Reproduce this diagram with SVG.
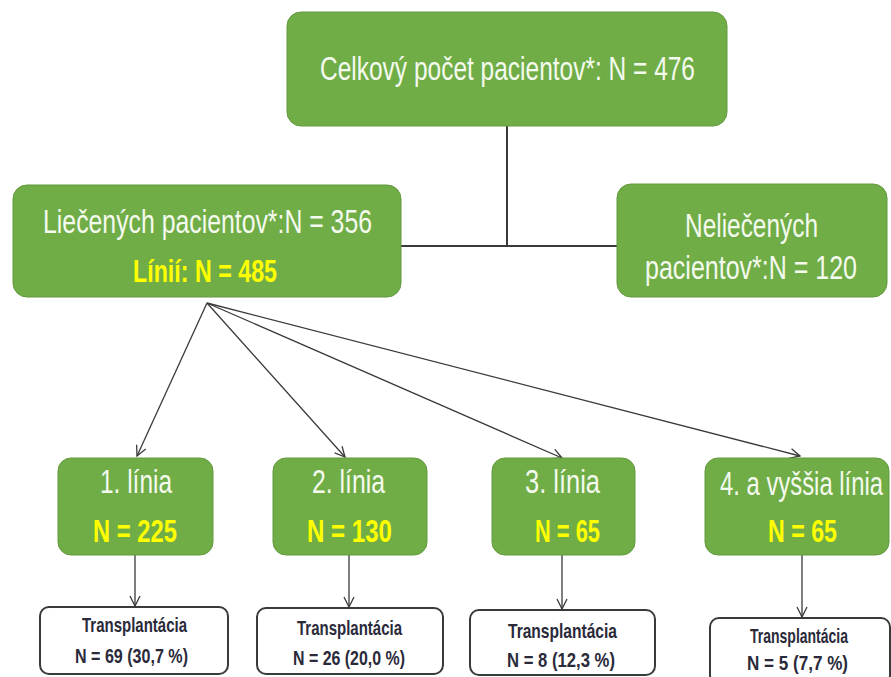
<svg xmlns="http://www.w3.org/2000/svg" width="891" height="677" viewBox="0 0 891 677">
<style>
.g{fill:#70AD47;stroke:#63993e;stroke-width:1}
.w{fill:#fff;stroke:#3a3a3a;stroke-width:2}
.t{font-family:"Liberation Sans",Arial,sans-serif;font-size:34px;fill:#F4FAEE;text-anchor:middle}
.y{font-family:"Liberation Sans",Arial,sans-serif;font-size:31px;font-weight:bold;fill:#FFFF00;text-anchor:middle}
.s{font-family:"Liberation Sans",Arial,sans-serif;font-size:20px;font-weight:bold;fill:#2a2a3a;text-anchor:middle}
.c{fill:none;stroke:#3a3a3a}
</style>
<defs>
<marker id="ah" viewBox="0 0 12 12" refX="11" refY="6" markerWidth="12" markerHeight="12" markerUnits="userSpaceOnUse" orient="auto">
<polyline points="1,1 11,6 1,11" fill="none" stroke="#3a3a3a" stroke-width="1.3"/>
</marker>
</defs>
<rect width="891" height="677" fill="#fff"/>
<g id="connectors">
<path class="c" stroke-width="2" d="M507,126 V246 M401,246 H617"/>
<g stroke-width="1.3" class="c" marker-end="url(#ah)">
<line x1="207" y1="303" x2="137" y2="456"/>
<line x1="207" y1="303" x2="345" y2="457"/>
<line x1="207" y1="303" x2="562" y2="458"/>
<line x1="207" y1="303" x2="800" y2="456"/>
<line x1="135" y1="555" x2="135" y2="606"/>
<line x1="349" y1="555" x2="349" y2="607"/>
<line x1="562" y1="555" x2="562" y2="609"/>
<line x1="802" y1="555" x2="802" y2="617"/>
</g>
</g>
<g id="total">
<rect class="g" x="287" y="12" width="440" height="114" rx="14"/>
<text class="t" transform="translate(507.5,80) scale(0.72,1)" textLength="520.8" lengthAdjust="spacingAndGlyphs">Celkový počet pacientov*: N = 476</text>
</g>
<g id="treated">
<rect class="g" x="13" y="185" width="388" height="112" rx="14"/>
<text class="t" transform="translate(207.5,233) scale(0.72,1)" textLength="456.9" lengthAdjust="spacingAndGlyphs">Liečených pacientov*:N = 356</text>
<text class="y" transform="translate(205,282) scale(0.76,1)" textLength="189.5" lengthAdjust="spacingAndGlyphs">Línií: N = 485</text>
</g>
<g id="untreated">
<rect class="g" x="617" y="184" width="270" height="113" rx="14"/>
<text class="t" transform="translate(751.5,237) scale(0.72,1)" textLength="184.7" lengthAdjust="spacingAndGlyphs">Neliečených</text>
<text class="t" transform="translate(751,279) scale(0.72,1)" textLength="294.4" lengthAdjust="spacingAndGlyphs">pacientov*:N = 120</text>
</g>
<g id="line1">
<rect class="g" x="58" y="458" width="155" height="97" rx="13"/>
<text class="t" transform="translate(136,493) scale(0.72,1)" textLength="100" lengthAdjust="spacingAndGlyphs">1. línia</text>
<text class="y" transform="translate(135,542) scale(0.76,1)" textLength="110.5" lengthAdjust="spacingAndGlyphs">N = 225</text>
</g>
<g id="line2">
<rect class="g" x="273" y="458" width="154" height="97" rx="13"/>
<text class="t" transform="translate(348.5,493) scale(0.72,1)" textLength="101.4" lengthAdjust="spacingAndGlyphs">2. línia</text>
<text class="y" transform="translate(349.5,542) scale(0.76,1)" textLength="111.8" lengthAdjust="spacingAndGlyphs">N = 130</text>
</g>
<g id="line3">
<rect class="g" x="492" y="458" width="143" height="97" rx="13"/>
<text class="t" transform="translate(562.5,493) scale(0.72,1)" textLength="104.2" lengthAdjust="spacingAndGlyphs">3. línia</text>
<text class="y" transform="translate(567.5,542) scale(0.76,1)" textLength="85.5" lengthAdjust="spacingAndGlyphs">N = 65</text>
</g>
<g id="line4">
<rect class="g" x="705" y="458" width="184" height="97" rx="13"/>
<text class="t" transform="translate(801.5,495) scale(0.72,1)" textLength="226.4" lengthAdjust="spacingAndGlyphs">4. a vyššia línia</text>
<text class="y" transform="translate(802.5,542) scale(0.76,1)" textLength="90.8" lengthAdjust="spacingAndGlyphs">N = 65</text>
</g>
<g id="tx1">
<rect class="w" x="40" y="607" width="188" height="67" rx="9"/>
<text class="s" transform="translate(134.5,632) scale(0.74,1)" textLength="141.9" lengthAdjust="spacingAndGlyphs">Transplantácia</text>
<text class="s" transform="translate(131.5,663) scale(0.74,1)" textLength="152.7" lengthAdjust="spacingAndGlyphs">N = 69 (30,7 %)</text>
</g>
<g id="tx2">
<rect class="w" x="257" y="608" width="186" height="66" rx="9"/>
<text class="s" transform="translate(349.5,635) scale(0.74,1)" textLength="141.9" lengthAdjust="spacingAndGlyphs">Transplantácia</text>
<text class="s" transform="translate(349,665) scale(0.74,1)" textLength="151.4" lengthAdjust="spacingAndGlyphs">N = 26 (20,0 %)</text>
</g>
<g id="tx3">
<rect class="w" x="470" y="610" width="185" height="65" rx="9"/>
<text class="s" transform="translate(562.5,638) scale(0.74,1)" textLength="147.3" lengthAdjust="spacingAndGlyphs">Transplantácia</text>
<text class="s" transform="translate(561,667) scale(0.74,1)" textLength="145.9" lengthAdjust="spacingAndGlyphs">N = 8 (12,3 %)</text>
</g>
<g id="tx4">
<rect class="w" x="710" y="618" width="180" height="66" rx="9"/>
<text class="s" transform="translate(799,643) scale(0.74,1)" textLength="132.4" lengthAdjust="spacingAndGlyphs">Transplantácia</text>
<text class="s" transform="translate(797.5,670) scale(0.74,1)" textLength="136.5" lengthAdjust="spacingAndGlyphs">N = 5 (7,7 %)</text>
</g>
</svg>
